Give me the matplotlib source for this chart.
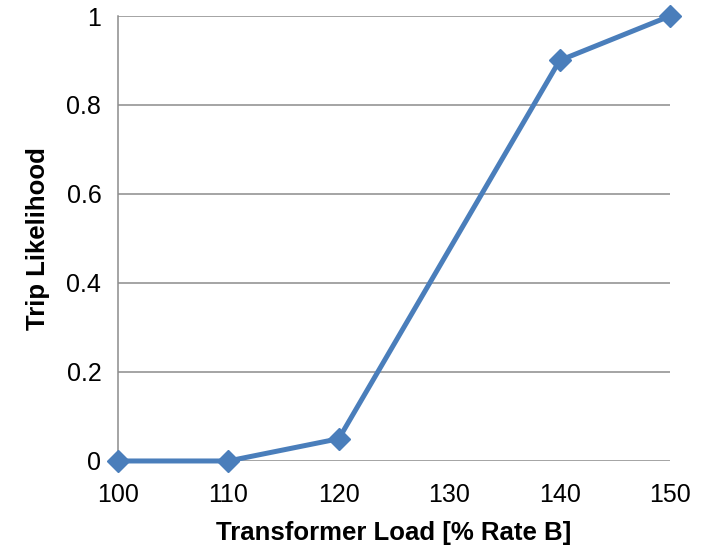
import matplotlib
matplotlib.use("Agg")
import matplotlib.pyplot as plt

# 변압기 부하 대비 트립 가능성
load = [100, 110, 120, 140, 150]
trip = [0, 0, 0.05, 0.9, 1]
x_ticks = [100, 110, 120, 130, 140, 150]
y_ticks = [0, 0.2, 0.4, 0.6, 0.8, 1]
y_tick_labels = ["0", "0.2", "0.4", "0.6", "0.8", "1"]

plt.rcParams["font.family"] = ["Liberation Sans", "DejaVu Sans"]

fig = plt.figure(figsize=(7.2, 5.48), dpi=100)
ax = fig.add_axes([0.1639, 0.1588, 0.7667, 0.812])

grid_color = "#8c8c8c"
for y in y_ticks:
    ax.axhline(y, color=grid_color, linewidth=1.1, zorder=1)

ax.plot(load, trip, color="#4a7ebb", linewidth=3.6, marker="D", markersize=11,
        zorder=3, clip_on=False)

ax.set_xlim(100, 150)
ax.set_ylim(0, 1)
ax.set_xticks(x_ticks)
ax.set_yticks(y_ticks)
ax.set_yticklabels(y_tick_labels)
ax.tick_params(axis="both", length=0, labelsize=18)
ax.tick_params(axis="x", pad=16)
ax.tick_params(axis="y", pad=12)

for side in ["top", "right", "bottom"]:
    ax.spines[side].set_visible(False)
ax.spines["left"].set_color(grid_color)
ax.spines["left"].set_linewidth(1.1)

ax.set_xlabel("Transformer Load [% Rate B]", fontsize=18.5, fontweight="bold", labelpad=10)
ax.set_ylabel("Trip Likelihood", fontsize=18.5, fontweight="bold", labelpad=12)

fig.savefig("out.png", dpi=100)
